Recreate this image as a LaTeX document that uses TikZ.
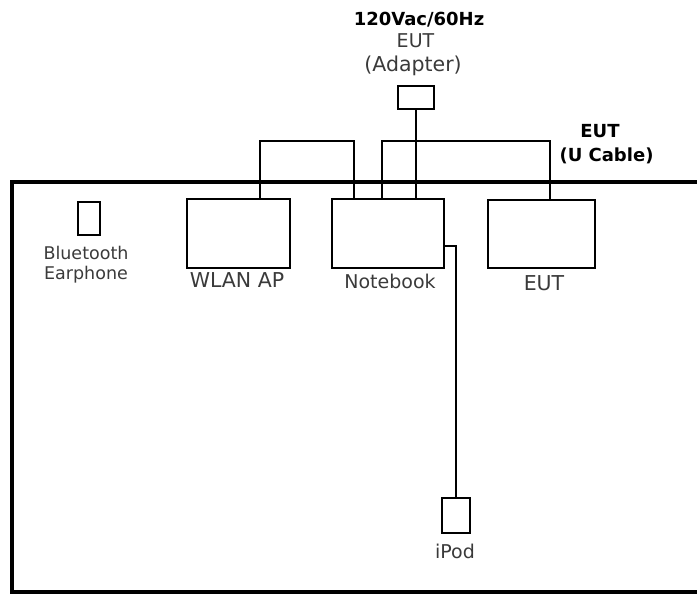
\documentclass[tikz,border=0pt]{standalone}
\usepackage{fontspec}
\setmainfont{DejaVu Sans}
\definecolor{txt}{HTML}{3A3A3A}

\begin{document}
\begin{tikzpicture}[x=1pt,y=-1pt,line width=2pt]
\tikzset{unit/.style={draw,line width=2pt,inner sep=0pt,outer sep=0pt},
  wire/.style={line width=2pt},
  room/.style={line width=4pt},
  lbl/.style={inner sep=0pt,text=txt,font=\fontsize{19}{20}\selectfont},
  blbl/.style={inner sep=0pt,font=\bfseries\fontsize{18}{20}\selectfont}}
\useasboundingbox (0,0) rectangle (697,595);
% ================= test room =================
\draw[room] (697,182) -- (12,182) -- (12,592) -- (697,592);
% ================= adapter and cable =================
\node[blbl] (volt) at (419,19.5) {120Vac/60Hz};
\node[lbl] (adeut) at (415.5,40.5) {EUT};
\node[lbl,font=\fontsize{20.5}{22}\selectfont] (adname) at (413,66) {(Adapter)};
\node[unit,minimum width=36pt,minimum height=23pt] (adapter) at (416,97.5) {};
\node[blbl] (ueut) at (600,131) {EUT};
\node[blbl] (uname) at (606.5,156) {(U Cable)};
% ================= devices =================
\node[unit,minimum width=22pt,minimum height=33pt] (earph) at (89,218.5) {};
\node[lbl,font=\fontsize{17.5}{20}\selectfont,align=center] (earlbl) at (86,265) {Bluetooth\\Earphone};
\node[unit,minimum width=103pt,minimum height=69pt] (wlan) at (238.5,233.5) {};
\node[lbl,font=\fontsize{20.5}{22}\selectfont] (wlanlbl) at (237,280.5) {WLAN AP};
\node[unit,minimum width=112pt,minimum height=69pt] (nb) at (388,233.5) {};
\node[lbl] (nblbl) at (390,281) {Notebook};
\node[unit,minimum width=107pt,minimum height=68pt] (eut) at (541.5,234) {};
\node[lbl,font=\fontsize{20.5}{22}\selectfont] (eutlbl) at (544,283) {EUT};
\node[unit,minimum width=28pt,minimum height=35pt] (ipod) at (456,515.5) {};
\node[lbl] (ipodlbl) at (455,551) {iPod};
% ================= wiring =================
\coordinate (bus) at (0,141);
\coordinate (wA) at ([xshift=21.5pt]wlan.north);
\coordinate (nA) at ([xshift=-34pt]nb.north);
\coordinate (nB) at ([xshift=-6pt]nb.north);
\coordinate (eA) at ([xshift=8.5pt]eut.north);
\coordinate (nC) at ([yshift=-12.5pt]nb.east);
\draw[wire] (adapter.south) -- (adapter.south |- nb.north);
\draw[wire] (wA) |- (nA |- bus) -- (nA);
\draw[wire] (nB) |- (eA |- bus) -- (eA);
\draw[wire] (nC) -| (ipod.north);
\end{tikzpicture}
\end{document}
